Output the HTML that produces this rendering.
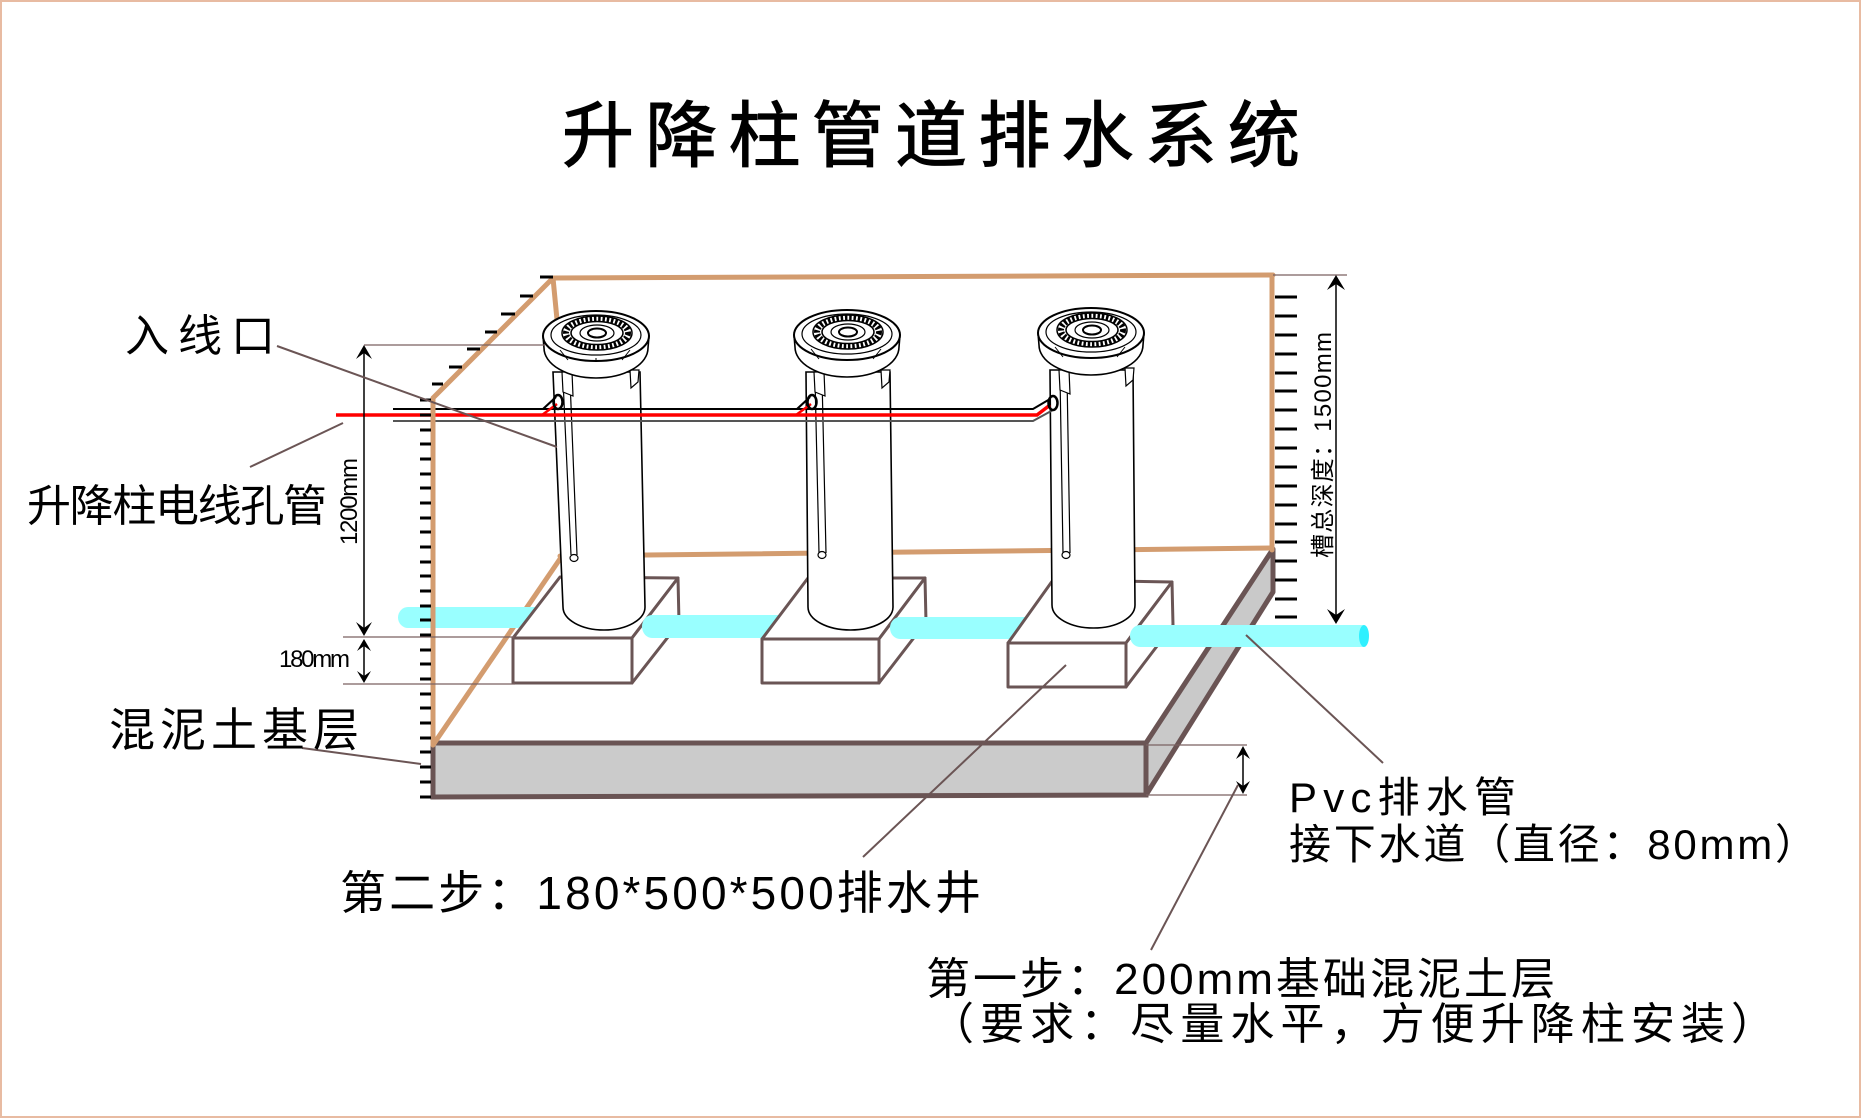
<!DOCTYPE html>
<html><head><meta charset="utf-8"><style>
html,body{margin:0;padding:0;background:#fff;}
svg{display:block}
text{font-family:"Liberation Sans","Noto Sans CJK SC",sans-serif;fill:#000}
</style></head><body>
<svg width="1861" height="1118" viewBox="0 0 1861 1118" xmlns="http://www.w3.org/2000/svg">
<rect x="0" y="0" width="1861" height="1118" fill="#fff"/>
<rect x="1" y="1" width="1859" height="1116" fill="none" stroke="#e8bba2" stroke-width="2"/>

<!-- Slab -->
<path d="M1146,743 L1273,549 L1273,592 L1146,795 Z" fill="#c9c9c9" stroke="#6a5454" stroke-width="5" stroke-linejoin="round"/>
<path d="M433,743 L1146,743 L1146,795 L433,797 Z" fill="#cbcbcb" stroke="#6a5454" stroke-width="5"/>

<!-- Tan trench lines -->
<g stroke="#d39c6f" stroke-width="5" fill="none" stroke-linecap="round">
<path d="M553,278 L1273,275"/>
<path d="M1272,275 L1272,550"/>
<path d="M553,278 L433,398"/>
<path d="M553,278 L558,330"/>
<path d="M560,556 L1272,548"/>
<path d="M562,556 L433,745"/>
</g>

<!-- Pipe A -->
<path d="M408,607 L548,607 L548,628 L408,628 A10,10.5 0 0 1 408,607 Z" fill="#99ffff"/>
<!-- Box 1 -->
<g fill="#fff" stroke="#6a5555" stroke-width="3" stroke-linejoin="round">
<path d="M513,638 L560,577 L678,578 L632,638 Z"/>
<path d="M632,638 L678,578 L679,623 L632,683 Z"/>
<path d="M513,638 L632,638 L632,683 L513,683 Z"/>
</g>
<!-- Pipe B -->
<path d="M652,615 L795,615 L795,638 L652,638 A10,11.5 0 0 1 652,615 Z" fill="#99ffff"/>
<!-- Box 2 -->
<g fill="#fff" stroke="#6a5555" stroke-width="3" stroke-linejoin="round">
<path d="M762,639 L808,578 L925,578 L879,639 Z"/>
<path d="M879,639 L925,578 L926,622 L879,683 Z"/>
<path d="M762,639 L879,639 L879,683 L762,683 Z"/>
</g>
<!-- Pipe C -->
<path d="M900,617 L1040,617 L1040,639 L900,639 A10,11 0 0 1 900,617 Z" fill="#99ffff"/>
<!-- Box 3 -->
<g fill="#fff" stroke="#6a5555" stroke-width="3" stroke-linejoin="round">
<path d="M1008,643 L1053,580 L1172,582 L1126,643 Z"/>
<path d="M1126,643 L1172,582 L1173,625 L1126,687 Z"/>
<path d="M1008,643 L1126,643 L1126,687 L1008,687 Z"/>
</g>
<!-- Pipe D -->
<path d="M1140,625 L1364,625 L1364,647 L1140,647 A10,11 0 0 1 1140,625 Z" fill="#99ffff"/>
<ellipse cx="1364" cy="636" rx="5" ry="11" fill="#2ff0ff"/>

<!-- Posts -->
<g stroke="#000" fill="#fff">
<!-- Post 1 -->
<path d="M553,372 L563,607 A41,23 0 0 0 645,607 L640,372 Z" stroke-width="1.6"/>
<path d="M563,380 L571,555 M570,380 L577,555" stroke-width="1.2" fill="none"/>
<ellipse cx="574" cy="558" rx="4" ry="3.5" stroke-width="1.2"/>
<path d="M562,372 L563,392 L573,396 L572,372 Z" stroke-width="1.2"/>
<path d="M630,370 L631,388 L638,382 L639,370 Z" stroke-width="1.2"/>
<path d="M543,336 L544,348 A52,30 0 0 0 648,348 L649,336 Z" stroke-width="1.6"/>
<ellipse cx="596" cy="336" rx="53" ry="25" stroke-width="2"/>
<ellipse cx="596" cy="335" rx="45" ry="20" stroke-width="1.2"/>
<ellipse cx="597" cy="333" rx="35" ry="17" stroke-width="1.5"/>
<ellipse cx="597" cy="333" rx="31" ry="14.5" stroke-width="6" fill="none" stroke-dasharray="2.5 1.8"/>
<ellipse cx="597" cy="333" rx="26" ry="11.5" stroke-width="1.5"/>
<ellipse cx="597" cy="333" rx="17" ry="8" stroke-width="1.2"/>
<ellipse cx="597" cy="333" rx="9" ry="4.5" stroke-width="2"/>
<path d="M560,350 L568,360 M630,350 L622,360 M596,358 L596,361" stroke-width="1" fill="none"/>

<!-- Post 2 -->
<path d="M806,372 L808,607 A42.5,23 0 0 0 893,607 L890,372 Z" stroke-width="1.6"/>
<path d="M815,378 L819,553 M822,378 L826,553" stroke-width="1.2" fill="none"/>
<ellipse cx="822" cy="555" rx="4" ry="3.5" stroke-width="1.2"/>
<path d="M814,372 L815,392 L825,396 L824,372 Z" stroke-width="1.2"/>
<path d="M881,370 L882,388 L889,382 L890,370 Z" stroke-width="1.2"/>
<path d="M794,335 L795,347 A52,30 0 0 0 899,347 L900,335 Z" stroke-width="1.6"/>
<ellipse cx="847" cy="335" rx="53" ry="25" stroke-width="2"/>
<ellipse cx="847" cy="334" rx="45" ry="20" stroke-width="1.2"/>
<ellipse cx="848" cy="332" rx="35" ry="17" stroke-width="1.5"/>
<ellipse cx="848" cy="332" rx="31" ry="14.5" stroke-width="6" fill="none" stroke-dasharray="2.5 1.8"/>
<ellipse cx="848" cy="332" rx="26" ry="11.5" stroke-width="1.5"/>
<ellipse cx="848" cy="332" rx="17" ry="8" stroke-width="1.2"/>
<ellipse cx="848" cy="332" rx="9" ry="4.5" stroke-width="2"/>
<path d="M811,349 L819,359 M881,349 L873,359" stroke-width="1" fill="none"/>

<!-- Post 3 -->
<path d="M1050,370 L1052,605 A41.5,23 0 0 0 1135,605 L1133,370 Z" stroke-width="1.6"/>
<path d="M1060,376 L1063,553 M1067,376 L1070,553" stroke-width="1.2" fill="none"/>
<ellipse cx="1066" cy="555" rx="4" ry="3.5" stroke-width="1.2"/>
<path d="M1059,370 L1060,390 L1070,394 L1069,370 Z" stroke-width="1.2"/>
<path d="M1125,368 L1126,386 L1133,380 L1134,368 Z" stroke-width="1.2"/>
<path d="M1038,333 L1039,345 A52,30 0 0 0 1143,345 L1144,333 Z" stroke-width="1.6"/>
<ellipse cx="1091" cy="333" rx="53" ry="25" stroke-width="2"/>
<ellipse cx="1091" cy="332" rx="45" ry="20" stroke-width="1.2"/>
<ellipse cx="1092" cy="330" rx="35" ry="17" stroke-width="1.5"/>
<ellipse cx="1092" cy="330" rx="31" ry="14.5" stroke-width="6" fill="none" stroke-dasharray="2.5 1.8"/>
<ellipse cx="1092" cy="330" rx="26" ry="11.5" stroke-width="1.5"/>
<ellipse cx="1092" cy="330" rx="17" ry="8" stroke-width="1.2"/>
<ellipse cx="1092" cy="330" rx="9" ry="4.5" stroke-width="2"/>
<path d="M1055,347 L1063,357 M1125,347 L1117,357" stroke-width="1" fill="none"/>
</g>

<!-- Cable -->
<g fill="none">
<path d="M393,409 L1033,409 L1050,399" stroke="#000" stroke-width="2"/>
<path d="M393,421 L1033,421 L1053,410" stroke="#555" stroke-width="2"/>
<path d="M543,409 L556,397 M797,409 L810,397" stroke="#000" stroke-width="2.2"/>
<path d="M336,415 L1037,415 L1050,405" stroke="#ff0000" stroke-width="3.5"/>
<path d="M542,415 L557,404 M796,415 L811,404" stroke="#ff0000" stroke-width="2.5"/>
<ellipse cx="558" cy="402" rx="4.5" ry="7" stroke="#000" stroke-width="2.5"/>
<ellipse cx="812" cy="402" rx="4.5" ry="7" stroke="#000" stroke-width="2.5"/>
<ellipse cx="1053" cy="403" rx="4.5" ry="7" stroke="#000" stroke-width="2.5"/>
</g>

<!-- Front-left tan vertical -->
<path d="M433,398 L433,745" stroke="#d39c6f" stroke-width="5" fill="none"/>

<!-- Ticks -->
<g stroke="#000" stroke-width="3">
<path d="M420,400H431 M420,415H431 M420,430H431 M420,444H431 M420,459H431 M420,474H431 M420,488H431 M420,503H431 M420,518H431 M420,532H431 M420,547H431 M420,562H431 M420,576H431 M420,591H431 M420,606H431 M420,620H431 M420,635H431 M420,650H431 M420,664H431 M420,679H431 M420,694H431 M420,708H431 M420,723H431 M420,738H431 M420,752H431 M420,767H431 M420,782H431 M420,797H431"/>
<path d="M540,277H553 M520,296H533 M501,314H515 M485,332H497 M467,349H480 M449,367H462 M432,384H443"/>
<path d="M1275,297H1297 M1275,316H1297 M1275,335H1297 M1275,354H1297 M1275,373H1297 M1275,391H1297 M1275,410H1297 M1275,429H1297 M1275,448H1297 M1275,467H1297 M1275,486H1297 M1275,505H1297 M1275,524H1297 M1275,542H1297 M1275,561H1297 M1275,580H1297 M1275,599H1297 M1275,617H1297"/>
</g>

<!-- Dimension lines -->
<g stroke="#7a6262" stroke-width="1.3" fill="none">
<path d="M364,345 L545,345"/>
<path d="M343,637 L514,637"/>
<path d="M343,684 L515,684"/>
<path d="M1273,275 L1347,275"/>
<path d="M1146,745 L1247,745"/>
<path d="M1146,795 L1247,795"/>
</g>
<g stroke="#000" stroke-width="1.5" fill="none">
<path d="M364,348 L364,633"/>
<path d="M364,642 L364,680"/>
<path d="M1336,278 L1336,621"/>
<path d="M1243,749 L1243,791"/>
</g>
<g fill="#000">
<path d="M364,345 L372,359 L364,353 L356,359 Z"/>
<path d="M364,636 L372,622 L364,628 L356,622 Z"/>
<path d="M364,639 L371,651 L364,646 L357,651 Z"/>
<path d="M364,683 L371,671 L364,676 L357,671 Z"/>
<path d="M1336,275 L1345,290 L1336,284 L1327,290 Z"/>
<path d="M1336,624 L1345,609 L1336,615 L1327,609 Z"/>
<path d="M1243,746 L1250,759 L1243,754 L1236,759 Z"/>
<path d="M1243,794 L1250,781 L1243,786 L1236,781 Z"/>
</g>

<!-- Leader lines -->
<g stroke="#6b5555" stroke-width="2" fill="none">
<path d="M277,346 L557,447"/>
<path d="M250,467 L343,423"/>
<path d="M302,748 L421,764"/>
<path d="M1066,665 L863,857"/>
<path d="M1151,950 L1238,785"/>
<path d="M1246,635 L1383,763"/>
</g>

<!-- Text -->
<text x="562" y="161" font-size="72" textLength="738" lengthAdjust="spacing" stroke="#000" stroke-width="1.2">升降柱管道排水系统</text>
<text x="125" y="351" font-size="44" textLength="150" lengthAdjust="spacing">入线口</text>
<text x="27" y="521" font-size="44" textLength="300" lengthAdjust="spacing">升降柱电线孔管</text>
<text x="109" y="746" font-size="46" textLength="250" lengthAdjust="spacing">混泥土基层</text>
<text x="279" y="667" font-size="24" textLength="71" lengthAdjust="spacing">180mm</text>
<text transform="translate(357,545) rotate(-90)" font-size="24" textLength="87" lengthAdjust="spacing">1200mm</text>
<text transform="translate(1331,558) rotate(-90)" font-size="24" textLength="226" lengthAdjust="spacing">槽总深度：1500mm</text>
<text x="1289" y="812" font-size="42" textLength="227" lengthAdjust="spacing">Pvc排水管</text>
<text x="1289" y="859" font-size="42" textLength="528" lengthAdjust="spacing">接下水道（直径：80mm）</text>
<text x="340" y="909" font-size="46" textLength="641" lengthAdjust="spacing">第二步：180*500*500排水井</text>
<text x="926" y="994" font-size="44" textLength="629" lengthAdjust="spacing">第一步：200mm基础混泥土层</text>
<text x="930" y="1039" font-size="44" textLength="845" lengthAdjust="spacing">（要求：尽量水平，方便升降柱安装）</text>
</svg>
</body></html>
